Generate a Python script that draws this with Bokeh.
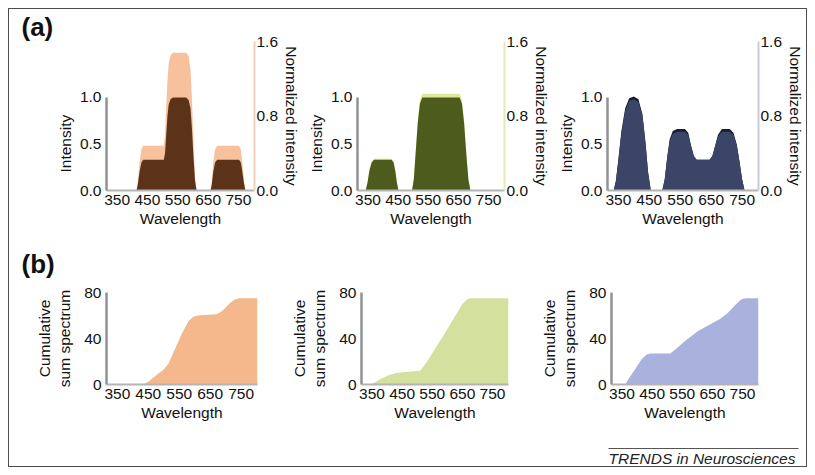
from bokeh.plotting import figure
from bokeh.models import (Range1d, LinearAxis, FixedTicker, PrintfTickFormatter, Spacer,
                          ColumnDataSource, Title)
from bokeh.layouts import column, row
from bokeh.embed import file_html
from bokeh.resources import INLINE
from bokeh.core.properties import value

# ---------------- data ----------------
x_ticks = [350, 450, 550, 650, 750]
x_min, x_max = 315, 803

# (a) left panel: intensity and normalized intensity
wl_a1 = [315, 414, 418, 424, 430, 436, 504, 508, 512, 516, 520, 526, 534, 578, 586, 592, 597, 602, 607, 612,
         658, 662, 667, 673, 680, 752, 758, 763, 768, 773, 803]
int_a1 = [0, 0, 0.06, 0.2, 0.3, 0.33, 0.33, 0.4, 0.6, 0.8, 0.92, 0.98, 1.0, 1.0, 0.97, 0.88, 0.65, 0.35, 0.1, 0,
          0, 0.06, 0.2, 0.3, 0.33, 0.33, 0.3, 0.2, 0.08, 0, 0]
norm_a1 = [0, 0, 0.09, 0.3, 0.44, 0.48, 0.48, 0.6, 0.9, 1.18, 1.36, 1.45, 1.48, 1.48, 1.44, 1.3, 0.96, 0.52, 0.15, 0,
           0, 0.09, 0.3, 0.44, 0.48, 0.48, 0.44, 0.3, 0.12, 0, 0]

# (a) middle panel
wl_a2 = [315, 342, 348, 355, 362, 370, 428, 435, 441, 446, 451, 496, 502, 508, 515, 522, 530,
         654, 662, 669, 676, 683, 690, 803]
int_a2 = [0, 0, 0.08, 0.22, 0.3, 0.33, 0.33, 0.3, 0.2, 0.08, 0, 0, 0.12, 0.4, 0.72, 0.93, 1.0,
          1.0, 0.93, 0.72, 0.4, 0.12, 0, 0]
norm_a2 = [0, 0, 0.08, 0.23, 0.31, 0.34, 0.34, 0.31, 0.21, 0.08, 0, 0, 0.13, 0.42, 0.75, 0.97, 1.04,
           1.04, 0.97, 0.75, 0.42, 0.13, 0, 0]

# (a) right panel
wl_a3 = [315, 335, 342, 350, 360, 372, 385, 400, 415, 428, 438, 446, 455, 492, 500, 508, 516, 526, 540,
         565, 576, 585, 594, 603, 645, 654, 663, 672, 685, 710, 722, 733, 742, 750, 758, 803]
int_a3 = [0, 0, 0.1, 0.32, 0.62, 0.85, 0.96, 0.98, 0.95, 0.8, 0.5, 0.2, 0, 0, 0.12, 0.35, 0.53, 0.61, 0.63,
          0.63, 0.6, 0.48, 0.37, 0.33, 0.33, 0.37, 0.48, 0.58, 0.63, 0.63, 0.6, 0.48, 0.3, 0.12, 0, 0]
norm_a3 = [0, 0, 0.1, 0.33, 0.64, 0.88, 0.99, 1.01, 0.98, 0.82, 0.51, 0.2, 0, 0, 0.12, 0.36, 0.55, 0.64, 0.66,
           0.66, 0.62, 0.48, 0.37, 0.33, 0.33, 0.37, 0.48, 0.6, 0.66, 0.66, 0.62, 0.49, 0.3, 0.12, 0, 0]

# (b) cumulative sum spectra
wl_b1 = [315, 432, 445, 460, 480, 500, 515, 535, 560, 580, 595, 610, 670, 685, 700, 715, 730, 745, 760, 803]
cum_b1 = [0, 0, 1.5, 4.5, 9, 13, 18, 30, 45, 55, 59, 60, 61, 63, 67, 71, 74, 75, 75, 75]

wl_b2 = [315, 345, 360, 380, 405, 430, 470, 510, 530, 590, 650, 665, 675, 803]
cum_b2 = [0, 0, 2, 5, 8, 10, 11, 12, 19, 44, 70, 74, 75, 75]

wl_b3 = [315, 360, 375, 395, 415, 432, 445, 510, 530, 555, 600, 640, 675, 700, 725, 745, 760, 803]
cum_b3 = [0, 0, 6, 14, 22, 26, 27, 27, 31, 37, 46, 52, 57, 62, 69, 74, 75, 75]

# ---------------- style ----------------
FONT = "Liberation Sans"
FS = "15.5px"
TXT = "#111111"


def style_axis(ax, color, lw):
    ax.axis_line_color = color
    ax.axis_line_width = lw
    ax.major_tick_line_color = None
    ax.minor_tick_line_color = None
    ax.major_tick_out = 0
    ax.major_tick_in = 0
    ax.minor_tick_out = 0
    ax.major_label_text_font = FONT
    ax.major_label_text_font_size = FS
    ax.major_label_text_color = TXT
    ax.axis_label_text_font = FONT
    ax.axis_label_text_font_size = FS
    ax.axis_label_text_font_style = "normal"
    ax.axis_label_text_color = TXT


def base_fig(width, left, right, height, top, bottom, y_max):
    p = figure(width=width, height=height,
               x_range=Range1d(x_min, x_max), y_range=Range1d(0, y_max),
               output_backend="svg", toolbar_location=None,
               min_border_left=left, min_border_right=right,
               min_border_top=top, min_border_bottom=bottom,
               background_fill_color=None, border_fill_color=None,
               outline_line_color=None)
    p.grid.visible = False
    xa = p.xaxis[0]
    style_axis(xa, "#b4b4b4", 2)
    xa.ticker = FixedTicker(ticks=x_ticks)
    xa.major_label_standoff = 4
    xa.axis_label = "Wavelength"
    xa.axis_label_standoff = 2
    ya = p.yaxis[0]
    style_axis(ya, "#929292", 2.5)
    ya.major_label_standoff = 5
    return p


def top_panel(width, left, right, wl, inten, norm, dark, light, raxis_color):
    p = base_fig(width, left, right, 234, 41, 44, 1.6)
    src = ColumnDataSource(dict(wl=wl, inten=inten, norm=norm))
    p.varea(x="wl", y1=0, y2="norm", source=src, fill_color=light)
    p.varea(x="wl", y1=0, y2="inten", source=src, fill_color=dark)
    ya = p.yaxis[0]
    ya.ticker = FixedTicker(ticks=[0, 0.5, 1.0])
    ya.formatter = PrintfTickFormatter(format="%.1f")
    ya.bounds = (0, 1.0)
    # the left label is centred on the 0-1.0 part of the axis, as in the original
    p.add_layout(Title(text="Intensity", align="left", offset=18, standoff=5,
                       text_font=FONT, text_font_size=FS, text_font_style="normal",
                       text_color=TXT), "left")
    ra = LinearAxis(ticker=FixedTicker(ticks=[0, 0.8, 1.6]),
                    formatter=PrintfTickFormatter(format="%.1f"),
                    bounds=(0, 1.6), axis_label="Normalized intensity")
    style_axis(ra, raxis_color, 2)
    ra.major_label_standoff = 2
    ra.axis_label_standoff = 2
    p.add_layout(ra, "right")
    return p


def bottom_panel(width, left, right, wl, cum, color):
    p = base_fig(width, left, right, 201, 58, 51, 80)
    src = ColumnDataSource(dict(wl=wl, cum=cum))
    p.varea(x="wl", y1=0, y2="cum", source=src, fill_color=color)
    ya = p.yaxis[0]
    ya.ticker = FixedTicker(ticks=[0, 40, 80])
    ya.axis_label = "Cumulative\nsum spectrum"
    ya.axis_label_standoff = 8
    return p


a1 = top_panel(303, 106, 46, wl_a1, int_a1, norm_a1, "#5b3319", "#f6c19c", "#f3d0b5")
a2 = top_panel(250, 54, 45, wl_a2, int_a2, norm_a2, "#4d5c1d", "#dfe898", "#e3eab8")
a3 = top_panel(262, 54, 57, wl_a3, int_a3, norm_a3, "#3a4568", "#181d30", "#c9ccd9")

b1 = bottom_panel(287, 106, 30, wl_b1, cum_b1, "#f5b78c")
b2 = bottom_panel(250, 70, 29, wl_b2, cum_b2, "#d4e09e")
b3 = bottom_panel(278, 70, 57, wl_b3, cum_b3, "#a9b1dd")

# panel letters
a1.add_layout(Title(text="(a)", align="left", offset=-85, standoff=-5, vertical_align="top",
                    text_font=FONT, text_font_size="26px", text_font_style="bold", text_color=TXT), "above")
b1.add_layout(Title(text="(b)", align="left", offset=-85, standoff=24, vertical_align="top",
                    text_font=FONT, text_font_size="26px", text_font_style="bold", text_color=TXT), "above")

# footer with journal credit
ft = figure(width=215, height=40, x_range=Range1d(0, 215), y_range=Range1d(40, 0),
            output_backend="svg", toolbar_location=None, min_border=0,
            x_axis_location=None, y_axis_location=None,
            background_fill_color=None, border_fill_color=None, outline_line_color=None)
ft.grid.visible = False
ft.segment(x0=[8], y0=[13], x1=[198], y1=[13], line_color="#555555", line_width=1.2)
ft.text(x=[8], y=[23], text=["TRENDS in Neurosciences"], text_font=value(FONT),
        text_font_style="italic", text_font_size="15.5px", text_color="#222222",
        text_baseline="middle", text_align="left")

layout = column(row(a1, a2, a3), row(b1, b2, b3), row(Spacer(width=600, height=40), ft),
                styles={"outline": "1px solid #4d4d4d", "outline-offset": "-9px"})

open("out.html", "w").write(file_html(layout, INLINE))
